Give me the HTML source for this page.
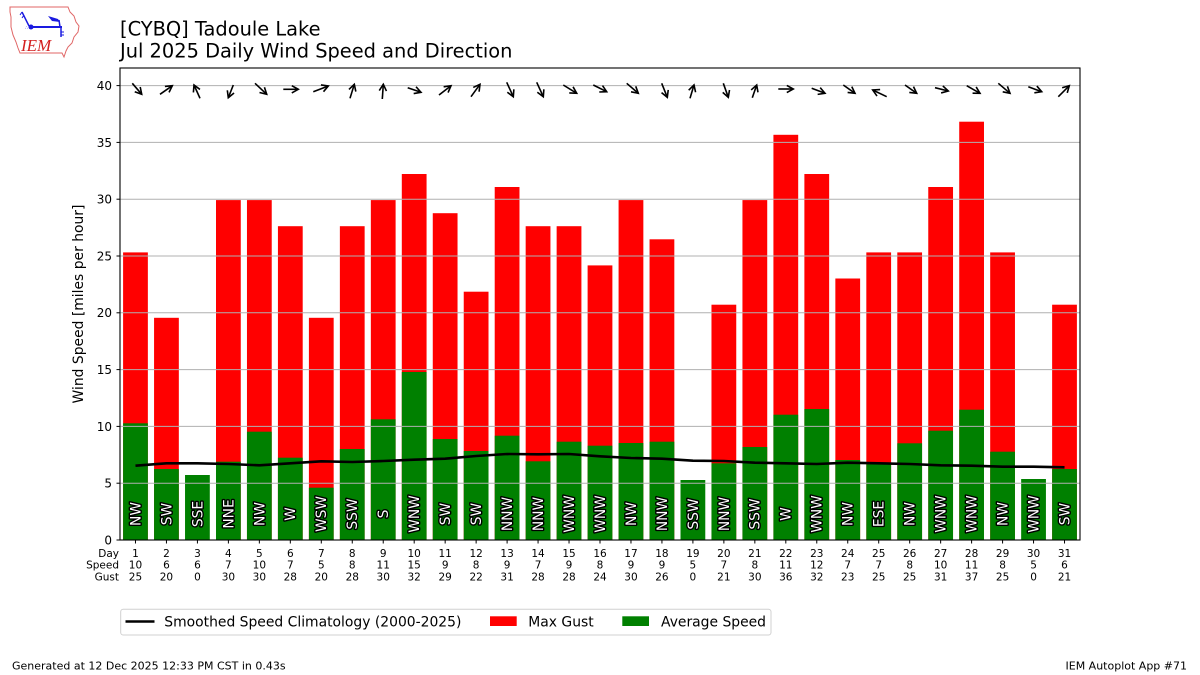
<!DOCTYPE html>
<html><head><meta charset="utf-8"><style>
html,body{margin:0;padding:0;background:#fff;}
svg{display:block;font-family:"DejaVu Sans","Liberation Sans",sans-serif;}
.dir{font-size:13.8px;fill:#fff;stroke:#000;stroke-width:2.8px;paint-order:stroke;stroke-linejoin:round;}
.xt{font-size:10.5px;fill:#000;}
.yt{font-size:12px;fill:#000;}
</style></head><body>
<svg width="1200" height="675" viewBox="0 0 1200 675" xmlns="http://www.w3.org/2000/svg">
<defs>
<marker id="ah" markerUnits="userSpaceOnUse" markerWidth="14" markerHeight="14" refX="0" refY="0" orient="auto" overflow="visible" viewBox="-9 -7 14 14">
<path d="M-6.5,-3.6 L0,0 L-6.5,3.6" fill="none" stroke="#000" stroke-width="1.6" stroke-linejoin="miter"/>
</marker>
</defs>
<rect width="1200" height="675" fill="#fff"/>

<!-- Logo -->
<g>
<path d="M10,7 L68,7 L70,12 L74,16 L76,22 L79,26 L78,32 L74,37 L72,43 L68,47 L66,51 L64,57 L62,53 L20,53 L18,48 L16,42 L13,35 L11,27 L11,17 L10,12 Z" fill="#fff" stroke="#e06666" stroke-width="1"/>
<path d="M22,12 Q25,18 29,26" fill="none" stroke="#1a1ae0" stroke-width="1.5"/>
<path d="M22,12 l-2,3 M24,15 l-2,3" stroke="#1a1ae0" stroke-width="1"/>
<line x1="30" y1="27" x2="62" y2="27" stroke="#1a1ae0" stroke-width="2"/>
<circle cx="31" cy="27" r="2.5" fill="#1a1ae0"/>
<path d="M48,16 L58,19 L60,22 L52,21 Z" fill="#1a1ae0"/>
<line x1="59" y1="20" x2="60" y2="27" stroke="#1a1ae0" stroke-width="1.5"/>
<line x1="61" y1="27" x2="61" y2="37" stroke="#1a1ae0" stroke-width="1.5"/>
<path d="M61,32 l3,0 M61,35 l3,0" stroke="#1a1ae0" stroke-width="1"/>
<text x="25" y="29" font-size="5" fill="#1a1ae0">&#8756;</text>
<text x="21" y="51" font-family="Liberation Serif,serif" font-style="italic" font-size="17" fill="#d42020">IEM</text>
</g>

<!-- Title -->
<text x="120" y="35.3" font-size="19.4" fill="#000">[CYBQ] Tadoule Lake</text>
<text x="120" y="57.3" font-size="19.4" fill="#000">Jul 2025 Daily Wind Speed and Direction</text>

<!-- Gust bars -->
<g fill="#ff0000">
<rect x="123.09" y="252.4" width="24.77" height="287.6"/>
<rect x="154.06" y="317.8" width="24.77" height="222.2"/>
<rect x="216.00" y="200.1" width="24.77" height="339.9"/>
<rect x="246.96" y="200.1" width="24.77" height="339.9"/>
<rect x="277.93" y="226.2" width="24.77" height="313.8"/>
<rect x="308.90" y="317.8" width="24.77" height="222.2"/>
<rect x="339.87" y="226.2" width="24.77" height="313.8"/>
<rect x="370.84" y="200.1" width="24.77" height="339.9"/>
<rect x="401.80" y="174.0" width="24.77" height="366.0"/>
<rect x="432.77" y="213.2" width="24.77" height="326.8"/>
<rect x="463.74" y="291.7" width="24.77" height="248.3"/>
<rect x="494.71" y="187.0" width="24.77" height="353.0"/>
<rect x="525.67" y="226.2" width="24.77" height="313.8"/>
<rect x="556.64" y="226.2" width="24.77" height="313.8"/>
<rect x="587.61" y="265.4" width="24.77" height="274.6"/>
<rect x="618.58" y="200.1" width="24.77" height="339.9"/>
<rect x="649.55" y="239.3" width="24.77" height="300.7"/>
<rect x="711.48" y="304.7" width="24.77" height="235.3"/>
<rect x="742.45" y="200.1" width="24.77" height="339.9"/>
<rect x="773.42" y="134.8" width="24.77" height="405.2"/>
<rect x="804.38" y="174.0" width="24.77" height="366.0"/>
<rect x="835.35" y="278.5" width="24.77" height="261.5"/>
<rect x="866.32" y="252.4" width="24.77" height="287.6"/>
<rect x="897.29" y="252.4" width="24.77" height="287.6"/>
<rect x="928.26" y="187.0" width="24.77" height="353.0"/>
<rect x="959.22" y="121.7" width="24.77" height="418.3"/>
<rect x="990.19" y="252.4" width="24.77" height="287.6"/>
<rect x="1052.13" y="304.7" width="24.77" height="235.3"/>
</g>

<!-- Average speed bars -->
<g fill="#008000">
<rect x="123.09" y="423.3" width="24.77" height="116.7"/>
<rect x="154.06" y="469.0" width="24.77" height="71.0"/>
<rect x="185.03" y="475.0" width="24.77" height="65.0"/>
<rect x="216.00" y="461.7" width="24.77" height="78.3"/>
<rect x="246.96" y="431.7" width="24.77" height="108.3"/>
<rect x="277.93" y="457.7" width="24.77" height="82.3"/>
<rect x="308.90" y="487.7" width="24.77" height="52.3"/>
<rect x="339.87" y="449.0" width="24.77" height="91.0"/>
<rect x="370.84" y="419.3" width="24.77" height="120.7"/>
<rect x="401.80" y="372.0" width="24.77" height="168.0"/>
<rect x="432.77" y="439.0" width="24.77" height="101.0"/>
<rect x="463.74" y="451.0" width="24.77" height="89.0"/>
<rect x="494.71" y="435.7" width="24.77" height="104.3"/>
<rect x="525.67" y="461.3" width="24.77" height="78.7"/>
<rect x="556.64" y="441.7" width="24.77" height="98.3"/>
<rect x="587.61" y="445.7" width="24.77" height="94.3"/>
<rect x="618.58" y="443.0" width="24.77" height="97.0"/>
<rect x="649.55" y="441.7" width="24.77" height="98.3"/>
<rect x="680.51" y="480.0" width="24.77" height="60.0"/>
<rect x="711.48" y="463.3" width="24.77" height="76.7"/>
<rect x="742.45" y="447.0" width="24.77" height="93.0"/>
<rect x="773.42" y="414.7" width="24.77" height="125.3"/>
<rect x="804.38" y="409.0" width="24.77" height="131.0"/>
<rect x="835.35" y="460.0" width="24.77" height="80.0"/>
<rect x="866.32" y="462.7" width="24.77" height="77.3"/>
<rect x="897.29" y="443.3" width="24.77" height="96.7"/>
<rect x="928.26" y="430.7" width="24.77" height="109.3"/>
<rect x="959.22" y="409.7" width="24.77" height="130.3"/>
<rect x="990.19" y="451.7" width="24.77" height="88.3"/>
<rect x="1021.16" y="479.0" width="24.77" height="61.0"/>
<rect x="1052.13" y="469.0" width="24.77" height="71.0"/>
</g>

<!-- Grid -->
<g stroke="#b0b0b0" stroke-width="1">
<line x1="120" y1="483.2" x2="1080" y2="483.2"/>
<line x1="120" y1="426.4" x2="1080" y2="426.4"/>
<line x1="120" y1="369.6" x2="1080" y2="369.6"/>
<line x1="120" y1="312.8" x2="1080" y2="312.8"/>
<line x1="120" y1="256.0" x2="1080" y2="256.0"/>
<line x1="120" y1="199.2" x2="1080" y2="199.2"/>
<line x1="120" y1="142.4" x2="1080" y2="142.4"/>
<line x1="120" y1="85.6" x2="1080" y2="85.6"/>
</g>

<!-- Climatology line -->
<polyline fill="none" stroke="#000" stroke-width="2.6" stroke-linejoin="round" points="135.48,465.7 166.45,463.3 197.42,463.3 228.39,464 259.35,465.3 290.32,463.3 321.29,461.3 352.26,462 383.23,461 414.19,459.7 445.16,458.7 476.13,456 507.10,454 538.06,454.3 569.03,454 600.00,456.3 630.97,458 661.94,458.7 692.90,460.7 723.87,461 754.84,462.7 785.81,463.3 816.77,464 847.74,462.7 878.71,463.3 909.68,464 940.65,465.3 971.61,465.7 1002.58,466.7 1033.55,466.7 1064.52,467.3"/>

<!-- Direction labels -->
<g class="dir" text-anchor="middle">
<text transform="translate(140.4,514) rotate(-90)">NW</text>
<text transform="translate(171.4,514) rotate(-90)">SW</text>
<text transform="translate(202.3,514) rotate(-90)">SSE</text>
<text transform="translate(233.3,514) rotate(-90)">NNE</text>
<text transform="translate(264.3,514) rotate(-90)">NW</text>
<text transform="translate(295.2,514) rotate(-90)">W</text>
<text transform="translate(326.2,514) rotate(-90)">WSW</text>
<text transform="translate(357.2,514) rotate(-90)">SSW</text>
<text transform="translate(388.1,514) rotate(-90)">S</text>
<text transform="translate(419.1,514) rotate(-90)">WNW</text>
<text transform="translate(450.1,514) rotate(-90)">SW</text>
<text transform="translate(481.0,514) rotate(-90)">SW</text>
<text transform="translate(512.0,514) rotate(-90)">NNW</text>
<text transform="translate(543.0,514) rotate(-90)">NNW</text>
<text transform="translate(573.9,514) rotate(-90)">WNW</text>
<text transform="translate(604.9,514) rotate(-90)">WNW</text>
<text transform="translate(635.9,514) rotate(-90)">NW</text>
<text transform="translate(666.8,514) rotate(-90)">NNW</text>
<text transform="translate(697.8,514) rotate(-90)">SSW</text>
<text transform="translate(728.8,514) rotate(-90)">NNW</text>
<text transform="translate(759.7,514) rotate(-90)">SSW</text>
<text transform="translate(790.7,514) rotate(-90)">W</text>
<text transform="translate(821.7,514) rotate(-90)">WNW</text>
<text transform="translate(852.6,514) rotate(-90)">NW</text>
<text transform="translate(883.6,514) rotate(-90)">ESE</text>
<text transform="translate(914.6,514) rotate(-90)">NW</text>
<text transform="translate(945.5,514) rotate(-90)">WNW</text>
<text transform="translate(976.5,514) rotate(-90)">WNW</text>
<text transform="translate(1007.5,514) rotate(-90)">NW</text>
<text transform="translate(1038.4,514) rotate(-90)">WNW</text>
<text transform="translate(1069.4,514) rotate(-90)">SW</text>
</g>

<!-- Arrows -->
<g stroke="#000" stroke-width="1.6" marker-end="url(#ah)">
<line x1="132.3" y1="83.3" x2="141.7" y2="94.3"/>
<line x1="160" y1="94.3" x2="172.3" y2="85.7"/>
<line x1="200" y1="98.3" x2="194" y2="85"/>
<line x1="233.3" y1="85" x2="228.3" y2="97.7"/>
<line x1="255" y1="83.3" x2="266.7" y2="94.3"/>
<line x1="283.3" y1="89.3" x2="298.3" y2="89.3"/>
<line x1="313.3" y1="91.7" x2="328.3" y2="86"/>
<line x1="350" y1="98.3" x2="354.3" y2="84.3"/>
<line x1="382.3" y1="99" x2="383.3" y2="84.3"/>
<line x1="407.7" y1="87.7" x2="421" y2="92.3"/>
<line x1="439" y1="95" x2="451" y2="85.7"/>
<line x1="471" y1="96.7" x2="480" y2="84.3"/>
<line x1="506.7" y1="82.3" x2="513.3" y2="96.7"/>
<line x1="536.7" y1="82.3" x2="543.3" y2="96.7"/>
<line x1="563.3" y1="85" x2="576.7" y2="93.3"/>
<line x1="593.3" y1="85" x2="606.7" y2="91.7"/>
<line x1="626.7" y1="83.3" x2="638.3" y2="93.3"/>
<line x1="661.7" y1="83.3" x2="667.3" y2="97.3"/>
<line x1="690" y1="98.3" x2="694" y2="85"/>
<line x1="723.3" y1="83.3" x2="728.3" y2="97.3"/>
<line x1="752.3" y1="97.7" x2="756.7" y2="85"/>
<line x1="778.3" y1="89" x2="793.3" y2="89"/>
<line x1="811.7" y1="88.3" x2="825" y2="93.3"/>
<line x1="843.3" y1="85" x2="855" y2="93.3"/>
<line x1="886.7" y1="96.7" x2="872.7" y2="90"/>
<line x1="905" y1="85" x2="916.7" y2="93.3"/>
<line x1="935" y1="87.7" x2="948.3" y2="91"/>
<line x1="966.7" y1="85.7" x2="980" y2="93.3"/>
<line x1="998.3" y1="83.3" x2="1010" y2="93.3"/>
<line x1="1028.3" y1="86.7" x2="1041.7" y2="91.7"/>
<line x1="1058.3" y1="96.7" x2="1069.3" y2="85.7"/>
</g>

<!-- Axes frame -->
<rect x="120" y="68" width="960" height="472" fill="none" stroke="#000" stroke-width="1.1"/>

<!-- Y ticks -->
<g stroke="#000" stroke-width="1">
<line x1="116.5" y1="540" x2="120" y2="540"/>
<line x1="116.5" y1="483.2" x2="120" y2="483.2"/>
<line x1="116.5" y1="426.4" x2="120" y2="426.4"/>
<line x1="116.5" y1="369.6" x2="120" y2="369.6"/>
<line x1="116.5" y1="312.8" x2="120" y2="312.8"/>
<line x1="116.5" y1="256.0" x2="120" y2="256.0"/>
<line x1="116.5" y1="199.2" x2="120" y2="199.2"/>
<line x1="116.5" y1="142.4" x2="120" y2="142.4"/>
<line x1="116.5" y1="85.6" x2="120" y2="85.6"/>
</g>
<g class="yt" text-anchor="end">
<text x="112" y="544.4">0</text>
<text x="112" y="487.6">5</text>
<text x="112" y="430.8">10</text>
<text x="112" y="374.0">15</text>
<text x="112" y="317.2">20</text>
<text x="112" y="260.4">25</text>
<text x="112" y="203.6">30</text>
<text x="112" y="146.8">35</text>
<text x="112" y="90.0">40</text>
</g>
<text transform="translate(83,304) rotate(-90)" text-anchor="middle" font-size="13.9" fill="#000">Wind Speed [miles per hour]</text>

<!-- X ticks -->
<g stroke="#000" stroke-width="1">
<line x1="135.48" y1="540" x2="135.48" y2="543.5"/><line x1="166.45" y1="540" x2="166.45" y2="543.5"/><line x1="197.42" y1="540" x2="197.42" y2="543.5"/><line x1="228.39" y1="540" x2="228.39" y2="543.5"/><line x1="259.35" y1="540" x2="259.35" y2="543.5"/><line x1="290.32" y1="540" x2="290.32" y2="543.5"/><line x1="321.29" y1="540" x2="321.29" y2="543.5"/><line x1="352.26" y1="540" x2="352.26" y2="543.5"/><line x1="383.23" y1="540" x2="383.23" y2="543.5"/><line x1="414.19" y1="540" x2="414.19" y2="543.5"/><line x1="445.16" y1="540" x2="445.16" y2="543.5"/><line x1="476.13" y1="540" x2="476.13" y2="543.5"/><line x1="507.10" y1="540" x2="507.10" y2="543.5"/><line x1="538.06" y1="540" x2="538.06" y2="543.5"/><line x1="569.03" y1="540" x2="569.03" y2="543.5"/><line x1="600.00" y1="540" x2="600.00" y2="543.5"/><line x1="630.97" y1="540" x2="630.97" y2="543.5"/><line x1="661.94" y1="540" x2="661.94" y2="543.5"/><line x1="692.90" y1="540" x2="692.90" y2="543.5"/><line x1="723.87" y1="540" x2="723.87" y2="543.5"/><line x1="754.84" y1="540" x2="754.84" y2="543.5"/><line x1="785.81" y1="540" x2="785.81" y2="543.5"/><line x1="816.77" y1="540" x2="816.77" y2="543.5"/><line x1="847.74" y1="540" x2="847.74" y2="543.5"/><line x1="878.71" y1="540" x2="878.71" y2="543.5"/><line x1="909.68" y1="540" x2="909.68" y2="543.5"/><line x1="940.65" y1="540" x2="940.65" y2="543.5"/><line x1="971.61" y1="540" x2="971.61" y2="543.5"/><line x1="1002.58" y1="540" x2="1002.58" y2="543.5"/><line x1="1033.55" y1="540" x2="1033.55" y2="543.5"/><line x1="1064.52" y1="540" x2="1064.52" y2="543.5"/>
</g>
<g class="xt" text-anchor="end">
<text x="119" y="557">Day</text>
<text x="119" y="568.7">Speed</text>
<text x="119" y="580.4">Gust</text>
</g>
<g class="xt" text-anchor="middle">
<text x="135.48" y="557">1<tspan x="135.48" y="568.7">10</tspan><tspan x="135.48" y="580.4">25</tspan></text>
<text x="166.45" y="557">2<tspan x="166.45" y="568.7">6</tspan><tspan x="166.45" y="580.4">20</tspan></text>
<text x="197.42" y="557">3<tspan x="197.42" y="568.7">6</tspan><tspan x="197.42" y="580.4">0</tspan></text>
<text x="228.39" y="557">4<tspan x="228.39" y="568.7">7</tspan><tspan x="228.39" y="580.4">30</tspan></text>
<text x="259.35" y="557">5<tspan x="259.35" y="568.7">10</tspan><tspan x="259.35" y="580.4">30</tspan></text>
<text x="290.32" y="557">6<tspan x="290.32" y="568.7">7</tspan><tspan x="290.32" y="580.4">28</tspan></text>
<text x="321.29" y="557">7<tspan x="321.29" y="568.7">5</tspan><tspan x="321.29" y="580.4">20</tspan></text>
<text x="352.26" y="557">8<tspan x="352.26" y="568.7">8</tspan><tspan x="352.26" y="580.4">28</tspan></text>
<text x="383.23" y="557">9<tspan x="383.23" y="568.7">11</tspan><tspan x="383.23" y="580.4">30</tspan></text>
<text x="414.19" y="557">10<tspan x="414.19" y="568.7">15</tspan><tspan x="414.19" y="580.4">32</tspan></text>
<text x="445.16" y="557">11<tspan x="445.16" y="568.7">9</tspan><tspan x="445.16" y="580.4">29</tspan></text>
<text x="476.13" y="557">12<tspan x="476.13" y="568.7">8</tspan><tspan x="476.13" y="580.4">22</tspan></text>
<text x="507.10" y="557">13<tspan x="507.10" y="568.7">9</tspan><tspan x="507.10" y="580.4">31</tspan></text>
<text x="538.06" y="557">14<tspan x="538.06" y="568.7">7</tspan><tspan x="538.06" y="580.4">28</tspan></text>
<text x="569.03" y="557">15<tspan x="569.03" y="568.7">9</tspan><tspan x="569.03" y="580.4">28</tspan></text>
<text x="600.00" y="557">16<tspan x="600.00" y="568.7">8</tspan><tspan x="600.00" y="580.4">24</tspan></text>
<text x="630.97" y="557">17<tspan x="630.97" y="568.7">9</tspan><tspan x="630.97" y="580.4">30</tspan></text>
<text x="661.94" y="557">18<tspan x="661.94" y="568.7">9</tspan><tspan x="661.94" y="580.4">26</tspan></text>
<text x="692.90" y="557">19<tspan x="692.90" y="568.7">5</tspan><tspan x="692.90" y="580.4">0</tspan></text>
<text x="723.87" y="557">20<tspan x="723.87" y="568.7">7</tspan><tspan x="723.87" y="580.4">21</tspan></text>
<text x="754.84" y="557">21<tspan x="754.84" y="568.7">8</tspan><tspan x="754.84" y="580.4">30</tspan></text>
<text x="785.81" y="557">22<tspan x="785.81" y="568.7">11</tspan><tspan x="785.81" y="580.4">36</tspan></text>
<text x="816.77" y="557">23<tspan x="816.77" y="568.7">12</tspan><tspan x="816.77" y="580.4">32</tspan></text>
<text x="847.74" y="557">24<tspan x="847.74" y="568.7">7</tspan><tspan x="847.74" y="580.4">23</tspan></text>
<text x="878.71" y="557">25<tspan x="878.71" y="568.7">7</tspan><tspan x="878.71" y="580.4">25</tspan></text>
<text x="909.68" y="557">26<tspan x="909.68" y="568.7">8</tspan><tspan x="909.68" y="580.4">25</tspan></text>
<text x="940.65" y="557">27<tspan x="940.65" y="568.7">10</tspan><tspan x="940.65" y="580.4">31</tspan></text>
<text x="971.61" y="557">28<tspan x="971.61" y="568.7">11</tspan><tspan x="971.61" y="580.4">37</tspan></text>
<text x="1002.58" y="557">29<tspan x="1002.58" y="568.7">8</tspan><tspan x="1002.58" y="580.4">25</tspan></text>
<text x="1033.55" y="557">30<tspan x="1033.55" y="568.7">5</tspan><tspan x="1033.55" y="580.4">0</tspan></text>
<text x="1064.52" y="557">31<tspan x="1064.52" y="568.7">6</tspan><tspan x="1064.52" y="580.4">21</tspan></text>
</g>

<!-- Legend -->
<rect x="120.7" y="609.3" width="650.3" height="25.7" rx="2.5" fill="#fff" stroke="#d0d0d0" stroke-width="1"/>
<line x1="125.5" y1="621.5" x2="154.5" y2="621.5" stroke="#000" stroke-width="2.6"/>
<text x="164.3" y="626.5" font-size="13.9" fill="#000">Smoothed Speed Climatology (2000-2025)</text>
<rect x="490" y="616.3" width="26.7" height="9.7" fill="#ff0000"/>
<text x="528.3" y="626.5" font-size="13.9" fill="#000">Max Gust</text>
<rect x="622.3" y="616.3" width="26.7" height="9.7" fill="#008000"/>
<text x="661" y="626.5" font-size="13.9" fill="#000">Average Speed</text>

<!-- Footer -->
<text x="12" y="669.5" font-size="11" fill="#000">Generated at 12 Dec 2025 12:33 PM CST in 0.43s</text>
<text x="1187" y="669.5" font-size="11" fill="#000" text-anchor="end">IEM Autoplot App #71</text>
</svg>
</body></html>
